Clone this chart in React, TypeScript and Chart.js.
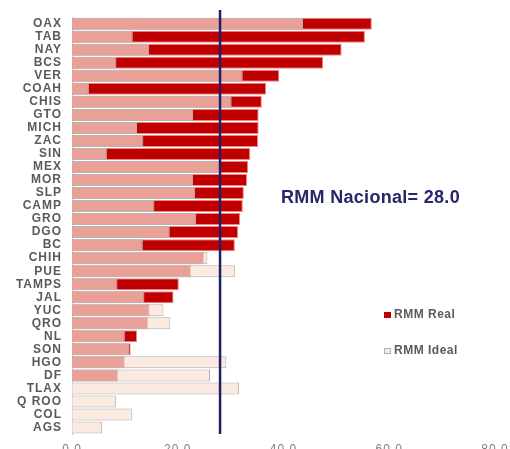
import React, { useEffect, useRef } from "react";
import { Chart, registerables } from "chart.js";

Chart.register(...registerables);

const categories = ["OAX","TAB","NAY","BCS","VER","COAH","CHIS","GTO","MICH","ZAC","SIN","MEX","MOR","SLP","CAMP","GRO","DGO","BC","CHIH","PUE","TAMPS","JAL","YUC","QRO","NL","SON","HGO","DF","TLAX","Q ROO","COL","AGS"];
const rmmReal = [56.7,55.4,51.0,47.5,39.2,36.7,35.9,35.3,35.3,35.2,33.7,33.3,33.1,32.5,32.3,31.8,31.4,30.8,25.0,22.5,20.2,19.2,14.7,14.4,12.3,11.1,10.0,8.7,0,0,0,0];
const rmmIdeal = [43.7,11.5,14.6,8.4,32.3,3.2,30.2,22.9,12.3,13.5,6.6,28.2,22.9,23.3,15.6,23.5,18.5,13.4,25.6,30.8,8.6,13.7,17.3,18.6,10.0,10.8,29.2,26.1,31.6,8.3,11.4,5.7];
const nacional = 28.0;
const xTicks = [0, 20, 40, 60, 80];

const FONT = "'Liberation Sans', Arial, sans-serif";

const spacingPlugin = {
  id: "spacing",
  beforeDraw(chart: any) {
    chart.ctx.letterSpacing = "1px";
  },
};

const overlayPlugin = {
  id: "overlay",
  afterDatasetsDraw(chart: any) {
    const { ctx, chartArea, scales } = chart;
    const x = scales.x.getPixelForValue(nacional);
    ctx.save();
    ctx.letterSpacing = "0px";
    ctx.strokeStyle = "#1f1f66";
    ctx.lineWidth = 2.5;
    ctx.beginPath();
    ctx.moveTo(x, 10);
    ctx.lineTo(x, chartArea.bottom);
    ctx.stroke();

    ctx.fillStyle = "#262668";
    ctx.font = `bold 18px ${FONT}`;
    ctx.letterSpacing = "0.3px";
    ctx.textBaseline = "alphabetic";
    ctx.textAlign = "left";
    ctx.fillText(`RMM Nacional= ${nacional.toFixed(1)}`, 281, 203);

    // legend
    ctx.letterSpacing = "0.5px";
    ctx.font = `bold 12px ${FONT}`;
    ctx.fillStyle = "#c00000";
    ctx.fillRect(384, 312, 7, 6);
    ctx.fillStyle = "#fbeae0";
    ctx.fillRect(384, 348, 7, 6);
    ctx.strokeStyle = "#b0b0b0";
    ctx.lineWidth = 1;
    ctx.strokeRect(384.5, 348.5, 6, 5);
    ctx.fillStyle = "#5a5a5a";
    ctx.fillText("RMM Real", 394, 318);
    ctx.fillText("RMM Ideal", 394, 354);
    ctx.restore();
  },
};

export default function App() {
  const ref = useRef<HTMLCanvasElement | null>(null);
  useEffect(() => {
    if (!ref.current) return;
    const chart = new Chart(ref.current, {
      type: "bar",
      data: {
        labels: categories,
        datasets: [
          {
            label: "RMM Ideal",
            data: rmmIdeal,
            backgroundColor: "rgba(249,225,211,0.71)",
            borderColor: "#b4b4b4",
            borderWidth: 1,
            order: 0,
            grouped: false,
            barPercentage: 0.92,
            categoryPercentage: 1,
          } as any,
          {
            label: "RMM Real",
            data: rmmReal,
            backgroundColor: "#c00000",
            borderColor: "rgba(235,120,120,0.9)",
            borderWidth: (c: any) => (c.raw ? 1 : 0),
            order: 1,
            grouped: false,
            barPercentage: 0.92,
            categoryPercentage: 1,
          } as any,
        ],
      },
      options: {
        indexAxis: "y",
        animation: false,
        responsive: false,
        devicePixelRatio: 1,
        layout: { padding: { top: 14, right: 15, left: 0, bottom: 0 } },
        plugins: { legend: { display: false }, tooltip: { enabled: false } },
        scales: {
          x: {
            min: 0,
            max: 80,
            afterFit: (s: any) => { s.height = 26; s.paddingRight = 0; s.paddingLeft = 0; },
            afterBuildTicks: (s: any) => { s.ticks = xTicks.map((v) => ({ value: v })); },
            grid: { display: false, drawTicks: false },
            border: { display: false },
            ticks: {
              padding: 8,
              color: "#808080",
              font: { family: FONT, size: 12 },
              callback: (v: any) => Number(v).toFixed(1),
            },
          },
          y: {
            afterFit: (s: any) => { s.width = 72; },
            grid: { display: false, drawTicks: false },
            border: { display: true, color: "#cccccc", width: 1 },
            ticks: {
              padding: 10,
              color: "#5a5a5a",
              font: { family: FONT, size: 12, weight: "bold" },
              autoSkip: false,
            },
          },
        },
      } as any,
      plugins: [spacingPlugin, overlayPlugin],
    });
    return () => chart.destroy();
  }, []);
  return (
    <div style={{ position: "fixed", left: 0, top: 0, width: 510, height: 449, overflow: "hidden", background: "#fff" }}>
      <canvas ref={ref} width={510} height={460} style={{ display: "block", width: 510, height: 460 }} />
    </div>
  );
}
